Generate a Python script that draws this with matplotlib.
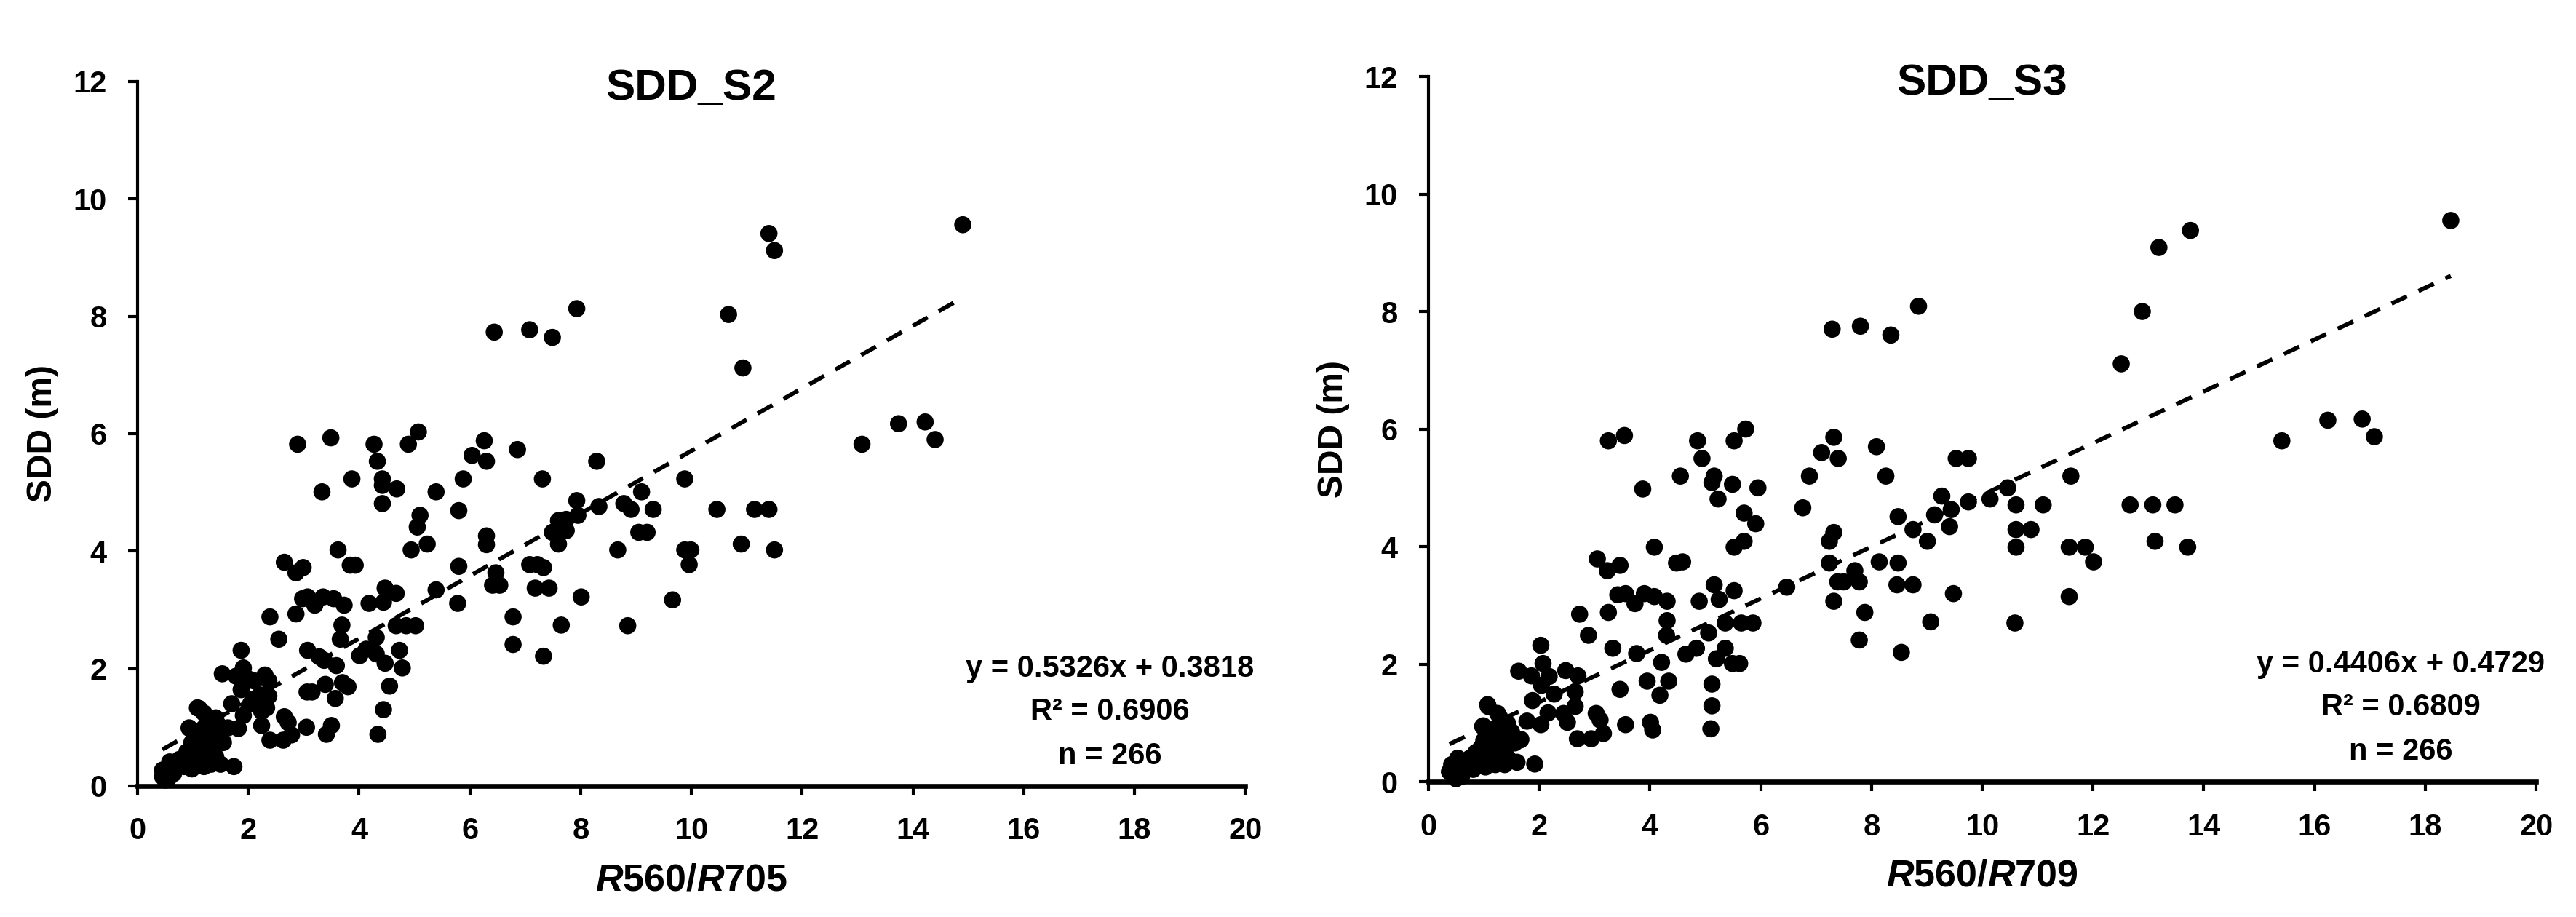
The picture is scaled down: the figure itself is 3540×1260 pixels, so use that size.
import numpy as np
import matplotlib
matplotlib.use("Agg")
import matplotlib.pyplot as plt

plt.rcParams['font.family'] = ['Liberation Sans', 'DejaVu Sans']
plt.rcParams['mathtext.fontset'] = 'custom'
plt.rcParams['mathtext.it'] = 'Liberation Sans:italic:bold'
plt.rcParams['mathtext.rm'] = 'Liberation Sans:bold'

# ── data: (R560/R70x, SDD) ──
s2_points = [
    (14.9, 9.56), (11.4, 9.41), (11.5, 9.12), (7.93, 8.13), (10.67, 8.03), (6.44, 7.73),
    (7.08, 7.77), (7.49, 7.64), (10.93, 7.12), (13.74, 6.17), (14.22, 6.20), (14.4, 5.90),
    (13.08, 5.82), (5.07, 6.03), (2.89, 5.82), (3.49, 5.93), (4.27, 5.82), (4.89, 5.82),
    (6.26, 5.88), (4.33, 5.53), (6.04, 5.63), (6.86, 5.73), (6.30, 5.53), (8.29, 5.53),
    (3.87, 5.23), (4.42, 5.23), (4.42, 5.12), (5.88, 5.23), (7.31, 5.23), (9.88, 5.23),
    (3.33, 5.01), (4.68, 5.06), (5.39, 5.01), (4.42, 4.81), (9.1, 5.01), (7.93, 4.86),
    (5.8, 4.69), (5.1, 4.61), (8.33, 4.76), (8.78, 4.81), (8.91, 4.71), (9.31, 4.71),
    (10.46, 4.71), (11.14, 4.71), (11.4, 4.71), (7.95, 4.61), (7.6, 4.52), (7.74, 4.54),
    (7.49, 4.32), (7.74, 4.35), (5.05, 4.41), (6.3, 4.26), (6.3, 4.11), (9.05, 4.32),
    (9.2, 4.32), (7.6, 4.12), (5.23, 4.12), (4.94, 4.02), (3.62, 4.02), (8.67, 4.02),
    (9.88, 4.02), (9.99, 4.02), (10.9, 4.12), (11.5, 4.02), (9.96, 3.77), (2.65, 3.81),
    (2.99, 3.72), (2.86, 3.63), (3.84, 3.76), (3.93, 3.76), (5.8, 3.74), (7.08, 3.77),
    (7.22, 3.77), (7.33, 3.72), (6.47, 3.63), (6.41, 3.42), (6.54, 3.42), (4.47, 3.37),
    (4.67, 3.28), (5.39, 3.34), (7.18, 3.37), (7.43, 3.37), (8.01, 3.22), (9.66, 3.17),
    (2.98, 3.19), (3.07, 3.22), (3.2, 3.08), (3.35, 3.22), (3.54, 3.19), (3.73, 3.08),
    (4.18, 3.11), (4.44, 3.13), (5.78, 3.11), (2.86, 2.93), (2.39, 2.88), (3.69, 2.74),
    (4.67, 2.73), (4.85, 2.73), (5.02, 2.73), (6.78, 2.88), (7.65, 2.74), (8.85, 2.73),
    (2.55, 2.50), (3.66, 2.50), (4.31, 2.53), (6.78, 2.41), (7.33, 2.21), (3.07, 2.31),
    (3.28, 2.20), (3.37, 2.14), (4.01, 2.22), (4.13, 2.33), (4.31, 2.25), (4.73, 2.31),
    (4.47, 2.09), (4.78, 2.01), (3.59, 2.05), (1.87, 2.31), (1.91, 2.01), (1.53, 1.91),
    (1.78, 1.87), (1.97, 1.84), (2.3, 1.89), (2.37, 1.79), (1.87, 1.64), (2.1, 1.79),
    (3.39, 1.73), (3.7, 1.76), (3.8, 1.69), (3.06, 1.60), (3.15, 1.60), (4.55, 1.70),
    (3.57, 1.49), (1.7, 1.40), (2.37, 1.53), (2.04, 1.40), (2.24, 1.27), (1.91, 1.20),
    (2.65, 1.18), (2.72, 1.08), (4.44, 1.30), (1.08, 1.33), (1.39, 1.14), (2.24, 1.03),
    (1.82, 0.98), (0.94, 0.98), (1.45, 1.05), (3.05, 1.00), (3.5, 1.03), (3.41, 0.88),
    (2.39, 0.78), (2.63, 0.78), (2.78, 0.87), (4.34, 0.88), (1.19, 0.79), (1.53, 0.75),
    (1.74, 0.33), (2.21, 1.55), (2.09, 1.48), (2.33, 1.33), (2.33, 1.53),
    (0.45, 0.16), (0.49, 0.25), (0.58, 0.41), (0.65, 0.21), (0.45, 0.27), (0.89, 0.58),
    (0.98, 0.29), (1.11, 1.32), (1.2, 1.24), (0.93, 0.99), (1.02, 0.91), (1.33, 1.07),
    (1.2, 0.33), (1.33, 0.37), (1.5, 0.37), (1.55, 0.74), (1.15, 0.66), (1.28, 0.58),
    (1.41, 0.50), (0.80, 0.41), (1.06, 0.41), (1.2, 0.58), (0.71, 0.33), (0.84, 0.33),
    (1.63, 0.99), (1.41, 1.16), (0.98, 0.74), (1.33, 0.83), (1.2, 0.99), (1.5, 0.99),
    (0.5, 0.10), (0.55, 0.12), (0.6, 0.30), (0.9, 0.50), (1.0, 0.60), (1.1, 0.50),
    (1.25, 0.45), (1.35, 0.70), (0.95, 0.35), (1.15, 0.80), (1.05, 0.70), (1.4, 0.90),
    (1.3, 0.40), (0.75, 0.45),
]

s3_points = [
    (18.46, 9.55), (13.76, 9.38), (13.19, 9.09), (8.85, 8.09), (12.89, 8.0), (7.29, 7.70),
    (7.8, 7.75), (8.35, 7.60), (12.51, 7.11), (16.24, 6.15), (16.86, 6.17), (17.08, 5.87),
    (15.41, 5.80), (5.73, 6.0), (3.25, 5.80), (3.54, 5.89), (4.86, 5.80), (5.52, 5.80),
    (7.32, 5.86), (4.94, 5.50), (7.1, 5.60), (7.4, 5.50), (8.09, 5.70), (9.53, 5.50),
    (9.75, 5.50), (4.55, 5.20), (5.16, 5.20), (5.12, 5.09), (5.49, 5.06), (6.88, 5.20),
    (8.26, 5.20), (11.6, 5.20), (3.87, 4.98), (5.95, 5.0), (5.23, 4.81), (5.7, 4.57),
    (5.91, 4.39), (6.76, 4.66), (9.27, 4.86), (10.14, 4.81), (10.46, 5.0), (9.75, 4.76),
    (9.44, 4.63), (9.14, 4.54), (10.61, 4.71), (11.1, 4.71), (12.67, 4.71), (13.08, 4.71),
    (13.48, 4.71), (8.48, 4.51), (9.41, 4.34), (8.75, 4.29), (10.61, 4.29), (10.88, 4.29),
    (7.32, 4.24), (7.24, 4.09), (9.01, 4.09), (13.12, 4.09), (5.7, 4.09), (5.52, 3.99),
    (4.08, 3.99), (10.61, 3.99), (11.57, 3.99), (11.86, 3.99), (13.71, 3.99), (12.01, 3.74),
    (3.05, 3.79), (3.23, 3.59), (3.46, 3.68), (4.48, 3.72), (4.59, 3.74), (7.24, 3.72),
    (8.14, 3.74), (8.48, 3.72), (7.7, 3.59), (6.47, 3.31), (7.39, 3.40), (7.5, 3.40),
    (7.78, 3.40), (8.46, 3.35), (8.75, 3.35), (5.16, 3.35), (5.52, 3.25), (3.42, 3.18),
    (3.56, 3.20), (3.73, 3.03), (3.9, 3.20), (4.08, 3.15), (4.31, 3.07), (4.89, 3.07),
    (5.25, 3.10), (7.32, 3.07), (9.48, 3.20), (11.57, 3.15), (3.25, 2.88), (2.73, 2.85),
    (4.31, 2.74), (5.36, 2.70), (5.65, 2.70), (5.86, 2.70), (7.88, 2.88), (9.07, 2.72),
    (10.59, 2.70), (2.89, 2.49), (4.3, 2.49), (5.06, 2.53), (7.78, 2.41), (8.54, 2.20),
    (2.03, 2.32), (3.33, 2.27), (3.76, 2.18), (4.84, 2.27), (4.65, 2.17), (5.36, 2.27),
    (5.2, 2.09), (4.21, 2.03), (5.49, 2.01), (5.62, 2.01), (1.63, 1.88), (2.07, 2.01),
    (1.86, 1.80), (2.18, 1.79), (2.48, 1.89), (2.7, 1.80), (2.04, 1.64), (3.95, 1.71),
    (4.34, 1.71), (3.46, 1.57), (4.18, 1.47), (5.12, 1.66), (2.27, 1.49), (1.88, 1.38),
    (2.65, 1.53), (2.65, 1.28), (2.16, 1.17), (2.44, 1.16), (2.03, 0.97), (2.51, 1.01),
    (3.03, 1.16), (3.1, 1.05), (5.12, 1.29), (3.16, 0.82), (2.69, 0.73), (2.94, 0.73),
    (3.56, 0.97), (4.01, 1.01), (4.05, 0.88), (5.1, 0.90), (1.07, 1.31), (0.98, 0.94),
    (1.29, 1.09), (1.66, 0.71), (1.92, 0.30),
    (0.38, 0.17), (0.42, 0.29), (0.53, 0.40), (0.60, 0.09), (0.55, 0.17), (0.86, 0.50),
    (0.95, 0.58), (1.08, 1.28), (0.99, 0.95), (1.25, 1.16), (1.34, 0.83), (1.43, 0.99),
    (1.56, 0.66), (1.6, 0.33), (1.38, 0.29), (1.21, 0.29), (1.03, 0.25), (0.81, 0.21),
    (1.12, 0.50), (1.30, 0.50), (1.43, 0.41), (1.67, 0.72), (1.78, 1.03), (1.21, 0.66),
    (0.90, 0.33), (0.68, 0.25), (0.45, 0.10), (0.50, 0.05), (1.0, 0.70), (1.15, 0.80),
    (1.35, 0.60), (0.75, 0.40), (1.2, 0.90), (1.5, 0.85),
]

titles = ["SDD_S2", "SDD_S3"]
xlabels = [r"$\it{R}$560/$\it{R}$705", r"$\it{R}$560/$\it{R}$709"]
slopes = [0.5326, 0.4406]
intercepts = [0.3818, 0.4729]
r2_values = [0.6906, 0.6809]
n_values = [266, 266]

fig = plt.figure(figsize=(11.8, 4.2), dpi=300)
axes = [fig.add_axes([0.0534, 0.1429, 0.43, 0.7683]),
        fig.add_axes([0.5545, 0.1476, 0.43, 0.7690])]

for ax, pts, title, xlab, a, b, r2, n in zip(axes, [s2_points, s3_points], titles,
                                             xlabels, slopes, intercepts, r2_values, n_values):
    x = np.array([p[0] for p in pts])
    y = np.array([p[1] for p in pts])

    ax.scatter(x, y, s=32, color='black', edgecolors='none', zorder=3, clip_on=False)

    # linear trendline
    xf = np.array([x.min(), x.max()])
    ax.plot(xf, a * xf + b, color='black', lw=1.4, dashes=(4.0, 3.0), zorder=2)

    ax.set_xlim(0, 20)
    ax.set_ylim(0, 12)
    ax.set_xticks(np.arange(0, 21, 2))
    ax.set_yticks(np.arange(0, 13, 2))
    for s in ['top', 'right']:
        ax.spines[s].set_visible(False)
    ax.spines['left'].set_linewidth(1.0)
    ax.spines['bottom'].set_linewidth(1.6)
    ax.tick_params(direction='out', length=3.2, width=1.0, labelsize=10, pad=7)
    for lbl in ax.get_xticklabels() + ax.get_yticklabels():
        lbl.set_fontweight('bold')

    ax.text(0.5, 0.99, title, transform=ax.transAxes, ha='center', va='center',
            fontsize=14.5, fontweight='bold')
    ax.text(-0.0855, 0.5, 'SDD (m)', transform=ax.transAxes, rotation=90,
            ha='center', va='center', fontsize=11.5, fontweight='bold')
    ax.text(0.5, -0.134, xlab, transform=ax.transAxes, ha='center', va='center',
            fontsize=12.5, fontweight='bold')

    lines = [f"y = {a:.4f}x + {b:.4f}", f"R\u00b2 = {r2:.4f}", f"n = {n}"]
    for ln, yy in zip(lines, [0.166, 0.105, 0.042]):
        ax.text(0.878, yy, ln, transform=ax.transAxes, ha='center', va='center',
                fontsize=10, fontweight='bold')

fig.savefig('out.png', dpi=300, facecolor='white')
